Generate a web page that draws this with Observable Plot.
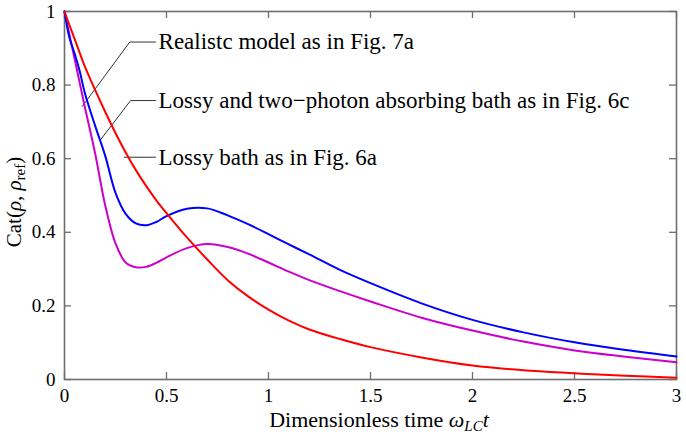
<!DOCTYPE html>
<html>
<head>
<meta charset="utf-8">
<script src="https://cdn.jsdelivr.net/npm/d3@7"></script>
<script src="https://cdn.jsdelivr.net/npm/@observablehq/plot@0.6"></script>
<style>
  html, body { margin: 0; padding: 0; background: #fff; }
  #chart svg { display: block; }
  #chart svg text { font-family: "Liberation Serif", "Times New Roman", serif; }
</style>
</head>
<body>
<div id="chart"></div>
<script>
// ---- data ----
const time = [0, 0.025, 0.05, 0.075, 0.1, 0.15, 0.2, 0.25, 0.3, 0.35, 0.4, 0.45, 0.5, 0.6, 0.7, 0.8, 0.9, 1.0, 1.1, 1.2, 1.35, 1.5, 1.75, 2.0, 2.25, 2.5, 2.75, 3.0];
const lossyBath = [1, 0.962, 0.925, 0.887, 0.85, 0.787, 0.727, 0.67, 0.617, 0.569, 0.526, 0.487, 0.452, 0.386, 0.326, 0.27, 0.226, 0.19, 0.16, 0.136, 0.11, 0.088, 0.06, 0.038, 0.025, 0.017, 0.01, 0.005];
const twoPhotonBath = [1, 0.927, 0.885, 0.837, 0.778, 0.69, 0.607, 0.507, 0.45, 0.424, 0.419, 0.428, 0.444, 0.464, 0.465, 0.446, 0.422, 0.395, 0.367, 0.34, 0.298, 0.262, 0.207, 0.162, 0.128, 0.101, 0.08, 0.0625];
const realisticModel = [1, 0.935, 0.87, 0.805, 0.74, 0.615, 0.472, 0.37, 0.318, 0.305, 0.306, 0.317, 0.332, 0.357, 0.368, 0.36, 0.342, 0.318, 0.293, 0.27, 0.24, 0.212, 0.168, 0.133, 0.103, 0.079, 0.062, 0.047];

const xTicks = [0, 0.5, 1, 1.5, 2, 2.5, 3];
const xTickLabels = ["0", "0.5", "1", "1.5", "2", "2.5", "3"];
const yTicks = [0, 0.2, 0.4, 0.6, 0.8, 1];
const yTickLabels = ["0", "0.2", "0.4", "0.6", "0.8", "1"];

const seriesNames = ["Realistc model as in Fig. 7a", "Lossy and two\u2212photon absorbing bath as in Fig. 6c", "Lossy bath as in Fig. 6a"];
const seriesColors = ["#cc00cc", "#0000ff", "#ff0000"];

// annotation anchors (data coordinates)
const labelX = [0.461, 0.461, 0.461];
const labelY = [0.917, 0.758, 0.604];
const leaderA = [[0.446, 0.917], [0.320, 0.917], [0.087, 0.742]];
const leaderB = [[0.446, 0.758], [0.324, 0.758], [0.176, 0.651]];
const leaderC = [[0.446, 0.604], [0.292, 0.604]];

// ---- build tables ----
const seriesValues = [realisticModel, twoPhotonBath, lossyBath];
const rows = [];
seriesValues.forEach((vals, s) => vals.forEach((v, i) => rows.push({t: time[i], v, s: seriesNames[s]})));
const labels = seriesNames.map((name, i) => ({name, x: labelX[i], y: labelY[i]}));
const leaders = [];
[leaderA, leaderB, leaderC].forEach((pts, g) => pts.forEach(([x, y]) => leaders.push({g, x, y})));

const W = 686, H = 434, mL = 64, mR = 10, mT = 11, mB = 55;
const innerH = H - mT - mB;
const serif = "Liberation Serif, Times New Roman, serif";
const axisGray = "#6e6e6e";

const plot = Plot.plot({
  width: W, height: H,
  marginLeft: mL, marginRight: mR, marginTop: mT, marginBottom: mB,
  style: {fontFamily: serif, fontSize: "19px", background: "#fff", color: "#000", overflow: "visible"},
  x: {domain: [0, 3]},
  y: {domain: [0, 1]},
  color: {domain: seriesNames, range: seriesColors},
  marks: [
    Plot.tickX(xTicks, {x: d => d, insetTop: innerH - 7, stroke: axisGray, strokeWidth: 1.3}),
    Plot.tickX(xTicks, {x: d => d, insetBottom: innerH - 7, stroke: axisGray, strokeWidth: 1.3}),
    Plot.tickY(yTicks, {y: d => d, insetRight: (W - mL - mR) - 7, stroke: axisGray, strokeWidth: 1.3}),
    Plot.tickY(yTicks, {y: d => d, insetLeft: (W - mL - mR) - 7, stroke: axisGray, strokeWidth: 1.3}),
    Plot.frame({stroke: axisGray, strokeWidth: 1.6}),
    Plot.axisX(xTicks, {tickSize: 0, tickPadding: 9, label: null, fontSize: 19, fontFamily: serif, tickFormat: (d, i) => xTickLabels[i]}),
    Plot.axisY(yTicks, {tickSize: 0, tickPadding: 9, label: null, fontSize: 19, fontFamily: serif, tickFormat: (d, i) => yTickLabels[i]}),
    Plot.line(leaders, {x: "x", y: "y", z: "g", stroke: "#333", strokeWidth: 1}),
    Plot.line(rows, {x: "t", y: "v", z: "s", stroke: "s", strokeWidth: 2, curve: "catmull-rom"}),
    Plot.text(labels, {x: "x", y: "y", text: "name", textAnchor: "start", lineAnchor: "middle", fontSize: 23, fontFamily: serif, fill: "#000"})
  ]
});

const svg = d3.select(plot);
const xs = plot.scale("x");
const cx = (xs.range[0] + xs.range[1]) / 2;

// x-axis title
const xt = svg.append("text")
  .attr("x", cx + 9).attr("y", 427)
  .attr("text-anchor", "middle")
  .attr("font-family", serif)
  .attr("font-size", 22).attr("fill", "#000");
xt.append("tspan").text("Dimensionless time ");
xt.append("tspan").attr("font-style", "italic").text("\u03c9");
xt.append("tspan").attr("font-style", "italic").attr("font-size", 15).attr("dy", 4).text("LC");
xt.append("tspan").attr("font-style", "italic").attr("dy", -4).text("t");

// y-axis title
const yt = svg.append("text")
  .attr("transform", `translate(21,${mT + innerH / 2 + 7}) rotate(-90)`)
  .attr("text-anchor", "middle")
  .attr("font-family", serif)
  .attr("font-size", 21).attr("fill", "#000");
yt.append("tspan").text("Cat(");
yt.append("tspan").attr("font-style", "italic").text("\u03c1");
yt.append("tspan").text(", ");
yt.append("tspan").attr("font-style", "italic").text("\u03c1");
yt.append("tspan").attr("font-size", 15).attr("dy", 4).text("ref");
yt.append("tspan").attr("dy", -4).text(")");

document.getElementById("chart").appendChild(plot);
</script>
</body>
</html>
